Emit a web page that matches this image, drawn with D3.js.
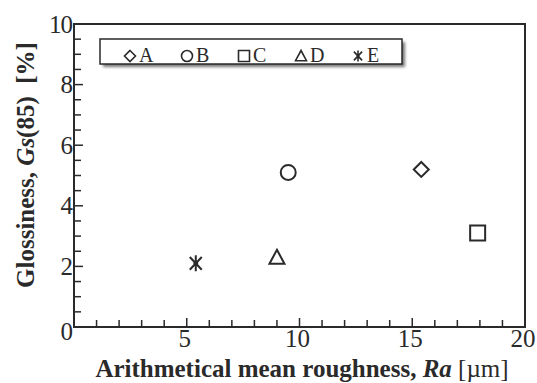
<!DOCTYPE html>
<html>
<head>
<meta charset="utf-8">
<script src="https://cdn.jsdelivr.net/npm/d3@7"></script>
<style>
  body { margin: 0; background: #fff; }
  svg { display: block; font-family: "Liberation Serif", "Times New Roman", serif; }
</style>
</head>
<body>
<svg id="chart" width="537" height="383"></svg>
<script>
// samples and measured values
const samples = ['A', 'B', 'C', 'D', 'E'];
const roughness = [15.4, 9.5, 17.9, 9.0, 5.4];   // Ra [um]
const gloss = [5.2, 5.1, 3.1, 2.3, 2.1];          // Gs(85) [%]
const markers = ['diamond', 'circle', 'square', 'triangle', 'asterisk'];

const xTicks = [5, 10, 15, 20];
const yTicks = [0, 2, 4, 6, 8, 10];

const ink = '#2a2a2a';
const margin = { left: 74, right: 12, top: 24, bottom: 56 };
const width = 537 - margin.left - margin.right,
    height = 383 - margin.top - margin.bottom;

const svg = d3.select('#chart');

const defs = svg.append('defs');
defs.append('filter').attr('id', 'shadow')
    .attr('x', '-10%').attr('y', '-50%').attr('width', '120%').attr('height', '200%')
    .append('feGaussianBlur').attr('stdDeviation', 1.6);

const g = svg.append('g').attr('transform', 'translate(' + margin.left + ',' + margin.top + ')');

const x = d3.scaleLinear().domain([0, 20]).range([0, width]);
const y = d3.scaleLinear().domain([0, 10]).range([height, 0]);

// marker shapes, s = outer size in px
function shape(kind) {
    return {
        draw: function (ctx, s) {
            const r = s / 2;
            if (kind === 'circle') {
                ctx.moveTo(r, 0);
                ctx.arc(0, 0, r, 0, 2 * Math.PI);
            } else if (kind === 'square') {
                ctx.rect(-r, -r, s, s);
            } else if (kind === 'diamond') {
                ctx.moveTo(0, -r); ctx.lineTo(r, 0); ctx.lineTo(0, r); ctx.lineTo(-r, 0); ctx.closePath();
            } else if (kind === 'triangle') {
                ctx.moveTo(0, -r); ctx.lineTo(r, r * 0.85); ctx.lineTo(-r, r * 0.85); ctx.closePath();
            } else {
                ctx.moveTo(0, -r); ctx.lineTo(0, r);
                ctx.moveTo(-r * 0.75, -r * 0.8); ctx.lineTo(r * 0.75, r * 0.8);
                ctx.moveTo(-r * 0.75, r * 0.8); ctx.lineTo(r * 0.75, -r * 0.8);
                ctx.moveTo(-r * 0.3, 0); ctx.lineTo(r * 0.3, 0);
            }
        }
    };
}

// frame
g.append('rect')
    .attr('width', width).attr('height', height)
    .attr('fill', 'none').attr('stroke', ink).attr('stroke-width', 2);

// inward ticks: bottom
g.append('g').selectAll('line')
    .data(d3.range(1, 20))
    .enter().append('line')
        .attr('x1', function (d) { return x(d); })
        .attr('x2', function (d) { return x(d); })
        .attr('y1', height)
        .attr('y2', function (d) { return height - (d % 5 === 0 ? 9 : 7); })
        .attr('stroke', ink).attr('stroke-width', 1.5);

// inward ticks: left
g.append('g').selectAll('line')
    .data(d3.range(0.5, 10, 0.5))
    .enter().append('line')
        .attr('y1', function (d) { return y(d); })
        .attr('y2', function (d) { return y(d); })
        .attr('x1', 0)
        .attr('x2', function (d) { return d % 2 === 0 ? 9 : 7; })
        .attr('stroke', ink).attr('stroke-width', 1.5);

// tick labels
g.append('g').selectAll('text')
    .data(xTicks)
    .enter().append('text')
        .attr('x', function (d) { return x(d) - 2; })
        .attr('y', height + 20)
        .attr('text-anchor', 'middle')
        .style('font-size', '25px').attr('fill', ink)
        .text(function (d) { return d; });

g.append('g').selectAll('text')
    .data(yTicks)
    .enter().append('text')
        .attr('x', -2)
        .attr('y', function (d) { return y(d) + (d === 0 ? 4 : 0); })
        .attr('dy', '0.34em')
        .attr('text-anchor', 'end')
        .style('font-size', '25px').attr('fill', ink)
        .style('letter-spacing', '-1px')
        .text(function (d) { return d; });

// axis titles
const xt = svg.append('text')
    .attr('x', 302).attr('y', 377)
    .attr('text-anchor', 'middle')
    .style('font-size', '25px').style('font-weight', 'bold').attr('fill', ink);
xt.append('tspan').text('Arithmetical mean roughness, ');
xt.append('tspan').style('font-style', 'italic').text('Ra');
xt.append('tspan').style('font-weight', 'normal').text(' [\u00b5m]');

const yt = svg.append('text')
    .attr('transform', 'translate(34,165) rotate(-90)')
    .attr('text-anchor', 'middle')
    .style('font-size', '25px').style('font-weight', 'bold').attr('fill', ink);
yt.append('tspan').text('Glossiness, ');
yt.append('tspan').style('font-style', 'italic').text('Gs');
yt.append('tspan').text('(85)\u00a0\u00a0[%]');

// data points
g.append('g').selectAll('path')
    .data(samples)
    .enter().append('path')
        .attr('transform', function (d, i) { return 'translate(' + x(roughness[i]) + ',' + y(gloss[i]) + ')'; })
        .attr('d', function (d, i) { return d3.symbol().type(shape(markers[i])).size(markers[i] === 'asterisk' ? 16 : 15)(); })
        .attr('fill', 'none').attr('stroke', ink).attr('stroke-width', 2);

// legend
const lx = 100, ly = 39, lw = 302, lh = 25;
svg.append('rect')
    .attr('x', lx + 3).attr('y', ly + 3).attr('width', lw).attr('height', lh)
    .attr('fill', '#777').attr('filter', 'url(#shadow)');
svg.append('rect')
    .attr('x', lx).attr('y', ly).attr('width', lw).attr('height', lh)
    .attr('fill', '#fff').attr('stroke', ink).attr('stroke-width', 1.5);

const item = svg.selectAll('.legend')
    .data(samples)
    .enter().append('g')
        .attr('class', 'legend')
        .attr('transform', function (d, i) { return 'translate(' + (130 + i * 57) + ',' + (ly + 17) + ')'; });

item.append('path')
    .attr('d', function (d, i) { return d3.symbol().type(shape(markers[i])).size(11)(); })
    .attr('fill', 'none').attr('stroke', ink).attr('stroke-width', 1.6);

item.append('text')
    .attr('x', 9)
    .attr('y', 6)
    .style('font-size', '20px').attr('fill', ink)
    .text(function (d) { return d; });
</script>
</body>
</html>
